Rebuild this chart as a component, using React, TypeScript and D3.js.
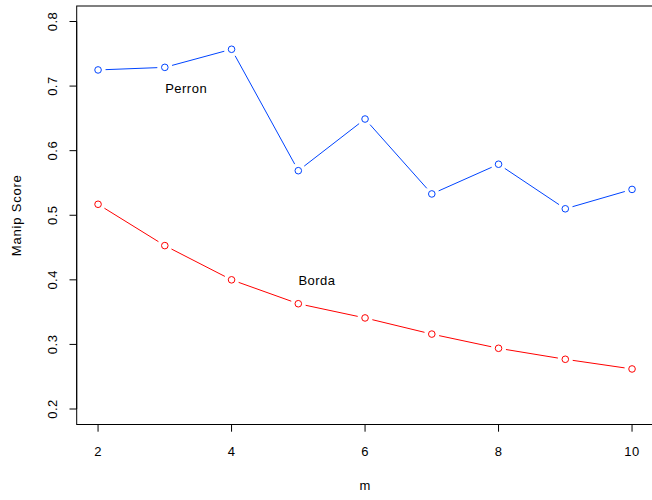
import React from "react";
import * as d3 from "d3";

const mValues = [2, 3, 4, 5, 6, 7, 8, 9, 10];
const perron = [0.725, 0.729, 0.757, 0.569, 0.649, 0.533, 0.579, 0.510, 0.540];
const borda = [0.517, 0.453, 0.400, 0.363, 0.341, 0.316, 0.294, 0.277, 0.262];
const xTicks = [2, 4, 6, 8, 10];
const yTicks = [0.2, 0.3, 0.4, 0.5, 0.6, 0.7, 0.8];
const labels = [
  { text: "Perron", x: 3.32, y: 0.697 },
  { text: "Borda", x: 5.28, y: 0.4 },
];

const W = 652;
const H = 500;
const left = 76.7;
const right = 653.4;
const top = 6;
const bottom = 424.5;

const x = d3.scaleLinear().domain([1.68, 10.32]).range([left, right]);
const y = d3.scaleLinear().domain([0.176, 0.824]).range([bottom, top]);

const font = "'Liberation Sans', Arial, Helvetica, sans-serif";
const fs = 13;
const ls = 0.5;

function Series({ values, color }: { values: number[]; color: string }) {
  const pts = mValues.map((m, i) => [x(m), y(values[i])] as [number, number]);
  const gap = 7.5;
  const segs = [];
  for (let i = 0; i < pts.length - 1; i++) {
    const [x0, y0] = pts[i];
    const [x1, y1] = pts[i + 1];
    const dx = x1 - x0;
    const dy = y1 - y0;
    const len = Math.hypot(dx, dy);
    if (len <= 2 * gap) continue;
    const ux = dx / len;
    const uy = dy / len;
    segs.push(
      <line
        key={i}
        x1={x0 + ux * gap}
        y1={y0 + uy * gap}
        x2={x1 - ux * gap}
        y2={y1 - uy * gap}
        stroke={color}
        strokeWidth={1}
      />
    );
  }
  return (
    <g>
      {segs}
      {pts.map(([px, py], i) => (
        <circle key={i} cx={px} cy={py} r={3.3} fill="none" stroke={color} strokeWidth={1} />
      ))}
    </g>
  );
}

export default function App() {
  return (
    <svg
      width={W}
      height={H}
      style={{ position: "absolute", left: 0, top: 0, background: "#fff" }}
      fontFamily={font}
    >
      <rect x={0} y={0} width={W} height={H} fill="#fff" />
      <rect x={left} y={top} width={right - left} height={bottom - top} fill="none" stroke="#000" strokeWidth={1} />
      {/* x axis */}
      <line x1={x(xTicks[0])} x2={x(xTicks[xTicks.length - 1])} y1={bottom} y2={bottom} stroke="#000" />
      {xTicks.map((t) => (
        <g key={t}>
          <line x1={x(t)} x2={x(t)} y1={bottom} y2={bottom + 7.2} stroke="#000" />
          <text x={x(t)} y={456} textAnchor="middle" fontSize={fs} letterSpacing={ls} fill="#000">
            {t}
          </text>
        </g>
      ))}
      {/* y axis */}
      <line x1={left} x2={left} y1={y(yTicks[0])} y2={y(yTicks[yTicks.length - 1])} stroke="#000" />
      {yTicks.map((t) => (
        <g key={t}>
          <line x1={left - 7.2} x2={left} y1={y(t)} y2={y(t)} stroke="#000" />
          <text
            transform={`translate(${57},${y(t)}) rotate(-90)`}
            textAnchor="middle"
            fontSize={fs}
            letterSpacing={ls}
            fill="#000"
          >
            {d3.format(".1f")(t)}
          </text>
        </g>
      ))}
      <text x={(left + right) / 2} y={490} textAnchor="middle" fontSize={fs} letterSpacing={ls} fill="#000">
        m
      </text>
      <text
        transform={`translate(${21},${(top + bottom) / 2}) rotate(-90)`}
        textAnchor="middle"
        fontSize={fs}
        letterSpacing={0.8}
        fill="#000"
      >
        Manip Score
      </text>
      <Series values={perron} color="#0044ff" />
      <Series values={borda} color="#ff0000" />
      {labels.map((l) => (
        <text key={l.text} x={x(l.x)} y={y(l.y) + 4.7} textAnchor="middle" fontSize={fs} letterSpacing={ls} fill="#000">
          {l.text}
        </text>
      ))}
    </svg>
  );
}
